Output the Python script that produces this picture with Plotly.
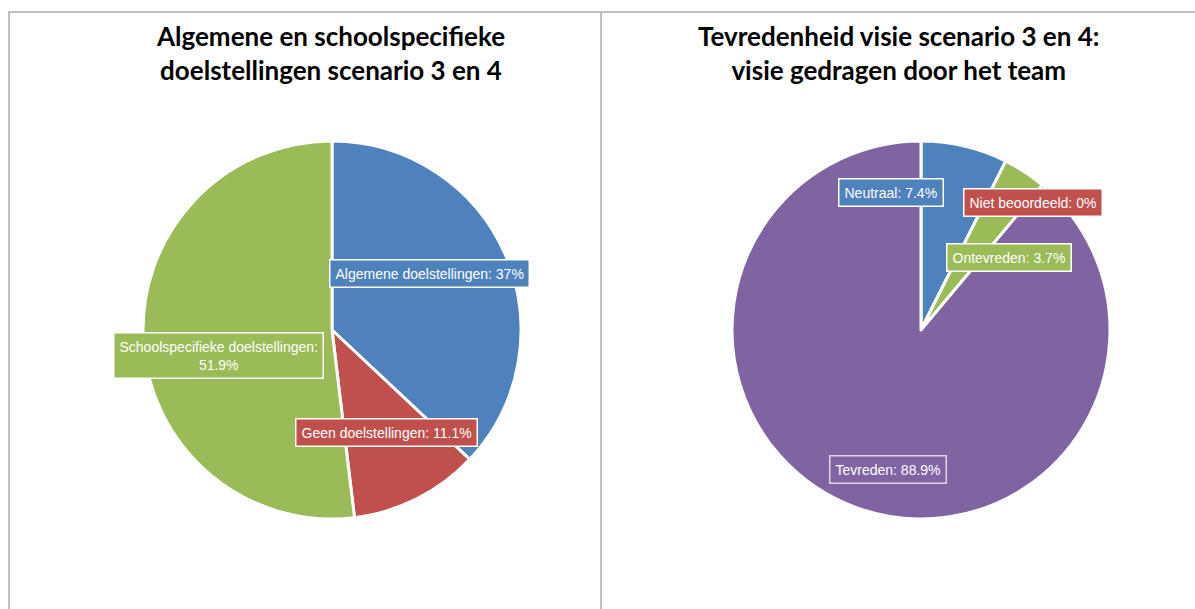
import plotly.graph_objects as go

W, H = 1195, 609

# Data
left_labels = ["Algemene doelstellingen", "Geen doelstellingen", "Schoolspecifieke doelstellingen"]
left_values = [37, 11.1, 51.9]
left_colors = ["#4F81BD", "#C0504D", "#9BBB59"]

right_labels = ["Neutraal", "Niet beoordeeld", "Ontevreden", "Tevreden"]
right_values = [7.4, 0, 3.7, 88.9]
right_colors = ["#4F81BD", "#C0504D", "#9BBB59", "#8064A2"]

left_title = "Algemene en schoolspecifieke<br>doelstellingen scenario 3 en 4"
right_title = "Tevredenheid visie scenario 3 en 4:<br>visie gedragen door het team"

def px_x(x):
    return x / W

def px_y(y):
    return 1 - y / H

def fmt(v):
    s = ("%.1f" % v).rstrip("0").rstrip(".")
    return s + "%"

fig = go.Figure()

R = 189
def domain(cx, cy):
    return dict(x=[px_x(cx - R), px_x(cx + R)], y=[px_y(cy + R), px_y(cy - R)])

fig.add_trace(go.Pie(
    labels=left_labels, values=left_values, sort=False, direction="clockwise",
    rotation=0, marker=dict(colors=left_colors, line=dict(color="white", width=3)),
    textinfo="none", domain=domain(332, 330), showlegend=False, hoverinfo="label+percent"
))
fig.add_trace(go.Pie(
    labels=right_labels, values=right_values, sort=False, direction="clockwise",
    rotation=0, marker=dict(colors=right_colors, line=dict(color="white", width=3)),
    textinfo="none", domain=domain(921, 330), showlegend=False, hoverinfo="label+percent"
))

annotations = []
title_font = dict(family="Lato, Open Sans, sans-serif", size=26, color="#000000")
annotations.append(dict(text="<b>" + left_title + "</b>", x=px_x(330), y=px_y(53), xref="paper", yref="paper",
                        showarrow=False, xanchor="center", yanchor="middle", font=title_font))
annotations.append(dict(text="<b>" + right_title + "</b>", x=px_x(898), y=px_y(53), xref="paper", yref="paper",
                        showarrow=False, xanchor="center", yanchor="middle", font=title_font))

left_pos = [(429, 273), (386, 432), (218, 355)]
right_pos = [(891, 192), (1033, 202), (1009, 258), (888, 470)]
label_font = dict(family="Liberation Sans, Arial, sans-serif", size=14, color="white")

for i, (lab, v) in enumerate(zip(left_labels, left_values)):
    txt = lab + ": " + fmt(v)
    if i == 2:
        txt = lab + ":<br>" + fmt(v)
    annotations.append(dict(text=txt, x=px_x(left_pos[i][0]), y=px_y(left_pos[i][1]), xref="paper", yref="paper",
                            showarrow=False, xanchor="center", yanchor="middle", align="center",
                            bgcolor=left_colors[i], bordercolor="white", borderwidth=1.5, borderpad=5,
                            font=label_font))
for i, (lab, v) in enumerate(zip(right_labels, right_values)):
    txt = lab + ": " + fmt(v)
    bc = "rgba(255,255,255,0.75)" if i == 3 else "white"
    annotations.append(dict(text=txt, x=px_x(right_pos[i][0]), y=px_y(right_pos[i][1]), xref="paper", yref="paper",
                            showarrow=False, xanchor="center", yanchor="middle", align="center",
                            bgcolor=right_colors[i], bordercolor=bc, borderwidth=1.5, borderpad=5,
                            font=label_font))

border = dict(color="#BFBFBF", width=2)
shapes = [
    dict(type="line", xref="paper", yref="paper", x0=px_x(8), x1=1, y0=px_y(12), y1=px_y(12), line=border),
    dict(type="line", xref="paper", yref="paper", x0=px_x(9), x1=px_x(9), y0=px_y(12), y1=0, line=border),
    dict(type="line", xref="paper", yref="paper", x0=px_x(601), x1=px_x(601), y0=px_y(12), y1=0, line=border),
]

fig.update_layout(
    width=W, height=H, margin=dict(l=0, r=0, t=0, b=0),
    paper_bgcolor="white", plot_bgcolor="white",
    annotations=annotations, shapes=shapes, showlegend=False,
)

fig.write_html("out.html", config={"displayModeBar": False},
               post_script="document.body.style.margin='0';document.body.style.overflow='hidden';")
